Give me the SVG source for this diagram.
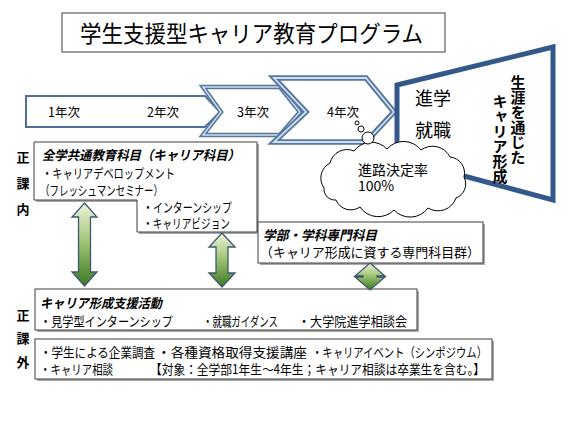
<svg xmlns="http://www.w3.org/2000/svg" width="570" height="427" viewBox="0 0 570 427">
<defs>
<linearGradient id="grn" x1="0" y1="0" x2="0" y2="1">
<stop offset="0" stop-color="#eef3dc"/>
<stop offset="0.45" stop-color="#a5c67a"/>
<stop offset="1" stop-color="#3b7a22"/>
</linearGradient>
<style>
text{font-family:"Noto Sans CJK JP","Liberation Sans",sans-serif;fill:#000}
.box{fill:#fff;stroke:#3f3f3f;stroke-width:1}
.shadow{fill:#a8a8a8}
.t13{font-size:13px}
.bi{font-weight:bold;font-style:italic}
.lbl{font-size:13px;font-weight:bold;text-anchor:middle}
.yr{font-size:12.5px}
.dbl-o{fill:#fff;stroke:#56779f;stroke-linejoin:miter}
.dbl-i{fill:none;stroke:#d3deec;stroke-linejoin:miter}
.conn{fill:url(#grn);stroke:#3e5872;stroke-width:1.3;stroke-linejoin:miter}
.bub{fill:#fff;stroke:#000;stroke-width:1}
</style>
</defs>
<rect width="570" height="427" fill="#fff"/>

<g id="title">
<rect x="62" y="13" width="383" height="39" fill="#fff" stroke="#404040" stroke-width="1"/>
<text x="80" y="42" font-size="23" textLength="343" lengthAdjust="spacingAndGlyphs">学生支援型キャリア教育プログラム</text>
</g>

<g id="year12">
<polygon points="26,96 205,96 220,112 205,127 26,127" fill="#fff" stroke="#4f6f9b" stroke-width="2"/>
<text class="yr" x="48" y="117">1年次</text>
<text class="yr" x="147" y="117">2年次</text>
</g>

<g id="year3">
<polygon class="dbl-o" stroke-width="4.5" points="203,87 280,87 300,112 280,135 203,135 221,112"/>
<polygon class="dbl-i" stroke-width="1.4" points="203,87 280,87 300,112 280,135 203,135 221,112"/>
<text class="yr" x="237" y="117">3年次</text>
</g>

<g id="year4">
<polygon class="dbl-o" stroke-width="5.5" points="274,78 366,78 394,112 366,142 274,142 306,112"/>
<polygon class="dbl-i" stroke-width="1.8" points="274,78 366,78 394,112 366,142 274,142 306,112"/>
<text class="yr" x="327" y="117">4年次</text>
</g>

<g id="career">
<polygon points="397,85 553,47 553,200 397,158" fill="#fff" stroke="#33598a" stroke-width="5" stroke-linejoin="miter"/>
<text x="415" y="105" font-size="18">進学</text>
<text x="415" y="137" font-size="18">就職</text>
<text x="518" y="75" font-size="15" font-weight="bold" style="writing-mode:vertical-rl">生涯を通じた</text>
<text x="500" y="94" font-size="15" font-weight="bold" style="writing-mode:vertical-rl">キャリア形成</text>
</g>

<g id="cloud">
<path d="M324,188 A17,17 0 0 1 330,163 A17.5,17.5 0 0 1 354,151 A21.5,21.5 0 0 1 387,149 A22,22 0 0 1 421,150 A19.5,19.5 0 0 1 450,157 A16,16 0 0 1 464,177 A15,15 0 0 1 456,198 A19,19 0 0 1 428,208 A22,22 0 0 1 394,210 A22,22 0 0 1 360,207 A16,16 0 0 1 336,200 A11,11 0 0 1 324,188 Z" fill="#fff" stroke="#000" stroke-width="1"/>
<circle class="bub" cx="357" cy="123" r="2"/>
<circle class="bub" cx="361" cy="129" r="3"/>
<circle class="bub" cx="368" cy="138" r="6"/>
<text x="358" y="175" font-size="14">進路決定率</text>
<text x="358" y="191" font-size="14">100%</text>
</g>

<g id="label-in">
<text class="lbl" x="23" y="162">正</text>
<text class="lbl" x="23" y="188">課</text>
<text class="lbl" x="23" y="214">内</text>
</g>

<g id="label-out">
<text class="lbl" x="23" y="320">正</text>
<text class="lbl" x="23" y="343">課</text>
<text class="lbl" x="23" y="367">外</text>
</g>

<g id="common">
<polygon class="shadow" points="36,144 259,144 259,234 139,234 139,202 36,202"/>
<polygon class="box" points="34,142 257,142 257,232 137,232 137,200 34,200"/>
<text class="t13 bi" x="42" y="160" textLength="198" lengthAdjust="spacingAndGlyphs">全学共通教育科目（キャリア科目）</text>
<text class="t13" x="42" y="178" textLength="133" lengthAdjust="spacingAndGlyphs">・キャリアデベロップメント</text>
<text class="t13" x="40" y="195" textLength="123" lengthAdjust="spacingAndGlyphs">（フレッシュマンセミナー）</text>
<text class="t13" x="143" y="212" textLength="89" lengthAdjust="spacingAndGlyphs">・インターンシップ</text>
<text class="t13" x="143" y="228" textLength="87" lengthAdjust="spacingAndGlyphs">・キャリアビジョン</text>
</g>

<g id="major">
<rect class="shadow" x="260" y="224" width="225" height="41"/>
<rect class="box" x="258" y="222" width="225" height="41"/>
<text class="t13 bi" x="263" y="240" textLength="114" lengthAdjust="spacingAndGlyphs">学部・学科専門科目</text>
<text class="t13" x="260" y="257" textLength="220" lengthAdjust="spacingAndGlyphs">（キャリア形成に資する専門科目群）</text>
</g>

<g id="support">
<rect class="shadow" x="37" y="291" width="382" height="41"/>
<rect class="box" x="35" y="289" width="382" height="41"/>
<text class="t13 bi" x="40" y="308" textLength="122" lengthAdjust="spacingAndGlyphs">キャリア形成支援活動</text>
<text class="t13" x="40" y="326" textLength="133" lengthAdjust="spacingAndGlyphs">・見学型インターンシップ</text>
<text class="t13" x="203" y="326" textLength="75" lengthAdjust="spacingAndGlyphs">・就職ガイダンス</text>
<text class="t13" x="298" y="326" textLength="109" lengthAdjust="spacingAndGlyphs">・大学院進学相談会</text>
</g>

<g id="events">
<rect class="shadow" x="37" y="341" width="457" height="40"/>
<rect class="box" x="35" y="339" width="457" height="40"/>
<text class="t13" x="40" y="357" textLength="115" lengthAdjust="spacingAndGlyphs">・学生による企業調査</text>
<text class="t13" x="157" y="357" textLength="150" lengthAdjust="spacingAndGlyphs">・各種資格取得支援講座</text>
<text class="t13" x="312" y="357" textLength="175" lengthAdjust="spacingAndGlyphs">・キャリアイベント（シンポジウム）</text>
<text class="t13" x="40" y="374" textLength="73" lengthAdjust="spacingAndGlyphs">・キャリア相談</text>
<text class="t13" x="150" y="374" textLength="335" lengthAdjust="spacingAndGlyphs">【対象：全学部1年生～4年生；キャリア相談は卒業生を含む。】</text>
</g>

<g id="connectors">
<polygon class="conn" points="84.5,203 97,217 90.5,217 90.5,272 97,272 84.5,286 72,272 78.5,272 78.5,217 72,217"/>
<polygon class="conn" points="222,233 235,247 228,247 228,273 235,273 222,287 209,273 216,273 216,247 209,247"/>
<polygon class="conn" points="370,263 385,276 377,276 377,277 385,277 370,290 355,277 363,277 363,276 355,276"/>
</g>
</svg>
